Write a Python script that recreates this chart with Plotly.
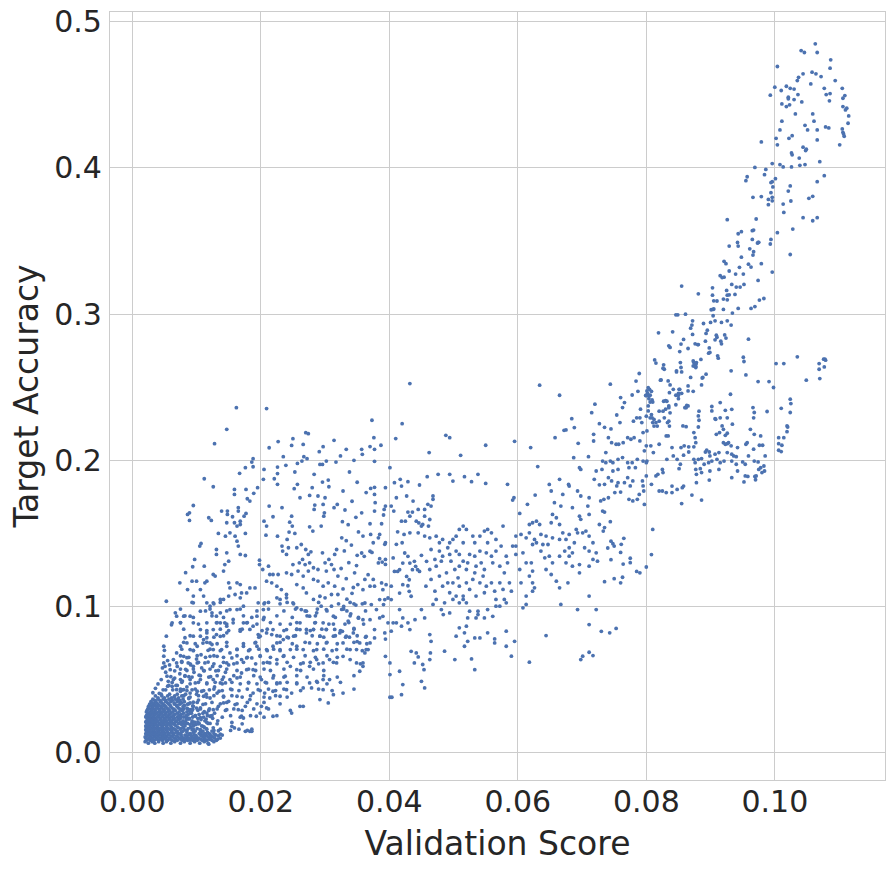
import plotly.graph_objects as go

# values, grouped by region of the plot

# upper right: top cluster and the steep branch (x > 0.072)
right_pts = [
    (0.1063, 0.4849), (0.1041, 0.4803), (0.1046, 0.4790), (0.1066, 0.4790), (0.1087, 0.4740),
    (0.1004, 0.4694), (0.1086, 0.4683), (0.1044, 0.4644), (0.1058, 0.4655), (0.1064, 0.4644),
    (0.1072, 0.4625), (0.1037, 0.4620), (0.1035, 0.4598), (0.1094, 0.4598), (0.1056, 0.4575),
    (0.1000, 0.4553), (0.1010, 0.4530), (0.1018, 0.4559), (0.1024, 0.4545), (0.1030, 0.4540),
    (0.1077, 0.4545), (0.1105, 0.4545), (0.0993, 0.4498), (0.1021, 0.4484), (0.1021, 0.4473),
    (0.1036, 0.4502), (0.1030, 0.4468), (0.1042, 0.4452), (0.1080, 0.4502), (0.1086, 0.4509),
    (0.1085, 0.4459), (0.1106, 0.4477), (0.1109, 0.4495), (0.1011, 0.4438), (0.1018, 0.4420),
    (0.1023, 0.4432), (0.1106, 0.4420), (0.1112, 0.4409), (0.1110, 0.4397), (0.1032, 0.4370),
    (0.1059, 0.4370), (0.1115, 0.4356), (0.1011, 0.4320), (0.1061, 0.4320), (0.1114, 0.4306),
    (0.1047, 0.4292), (0.1051, 0.4260), (0.1066, 0.4260), (0.1079, 0.4281), (0.1084, 0.4274),
    (0.1008, 0.4260), (0.1105, 0.4267), (0.1106, 0.4244), (0.1108, 0.4217), (0.1107, 0.4233),
    (0.1002, 0.4203), (0.1022, 0.4203), (0.1027, 0.4221), (0.1066, 0.4192), (0.0979, 0.4178),
    (0.1004, 0.4158), (0.1101, 0.4158), (0.1044, 0.4142), (0.1048, 0.4119), (0.1049, 0.4128),
    (0.1026, 0.4103), (0.1027, 0.4090), (0.1038, 0.4068), (0.0996, 0.4030), (0.1008, 0.4023),
    (0.1013, 0.4007), (0.1026, 0.4007), (0.1039, 0.4018), (0.1047, 0.4023), (0.1070, 0.4043),
    (0.0969, 0.4004), (0.0986, 0.3990), (0.1077, 0.3947), (0.0984, 0.3954), (0.0957, 0.3940),
    (0.0955, 0.3913), (0.1001, 0.3927), (0.0996, 0.3906), (0.0994, 0.3900), (0.1066, 0.3906),
    (0.1024, 0.3877), (0.0997, 0.3870), (0.1021, 0.3842), (0.0994, 0.3831), (0.0966, 0.3799),
    (0.0979, 0.3804), (0.0996, 0.3799), (0.0990, 0.3785), (0.0996, 0.3775), (0.1025, 0.3774),
    (0.1053, 0.3792), (0.1059, 0.3806), (0.0990, 0.3749), (0.1013, 0.3753), (0.1014, 0.3696),
    (0.1044, 0.3660), (0.1059, 0.3639), (0.1066, 0.3660), (0.0926, 0.3646), (0.0971, 0.3651),
    (0.1028, 0.3582), (0.0965, 0.3571), (0.0967, 0.3575), (0.0948, 0.3564), (0.0943, 0.3550),
    (0.1004, 0.3557), (0.0965, 0.3511), (0.0973, 0.3486), (0.0975, 0.3491), (0.0974, 0.3490),
    (0.0994, 0.3511), (0.0993, 0.3480), (0.0929, 0.3466), (0.0943, 0.3466), (0.0961, 0.3447),
    (0.0967, 0.3427), (0.0966, 0.3404), (0.1024, 0.3408), (0.0942, 0.3490), (0.0948, 0.3390),
    (0.0959, 0.3342), (0.0963, 0.3322), (0.0921, 0.3361), (0.0924, 0.3345), (0.0945, 0.3320),
    (0.0951, 0.3274), (0.0979, 0.3345), (0.0996, 0.3288), (0.0915, 0.3263), (0.0921, 0.3253),
    (0.0918, 0.3250), (0.0929, 0.3295), (0.0939, 0.3274), (0.0974, 0.3231), (0.0933, 0.3203),
    (0.0940, 0.3185), (0.0946, 0.3185), (0.0952, 0.3203), (0.0855, 0.3192), (0.0903, 0.3180),
    (0.0925, 0.3162), (0.0881, 0.3139), (0.0903, 0.3130), (0.0926, 0.3130), (0.0929, 0.3132),
    (0.0938, 0.3135), (0.0920, 0.3103), (0.0926, 0.3098), (0.0905, 0.3091), (0.0983, 0.3107),
    (0.0976, 0.3096), (0.0910, 0.3090), (0.0901, 0.3030), (0.0904, 0.3032), (0.0905, 0.3036),
    (0.0920, 0.3032), (0.0934, 0.3007), (0.0943, 0.3039), (0.0963, 0.3039), (0.0969, 0.3052),
    (0.0904, 0.2989), (0.0846, 0.2995), (0.0849, 0.2995), (0.0861, 0.3000), (0.0907, 0.2954),
    (0.0917, 0.2943), (0.0926, 0.2954), (0.0932, 0.2925), (0.0900, 0.2943), (0.0889, 0.2936),
    (0.0872, 0.2954), (0.0871, 0.2925), (0.0869, 0.2904), (0.0819, 0.2872), (0.0841, 0.2879),
    (0.0895, 0.2890), (0.0893, 0.2868), (0.0872, 0.2861), (0.0858, 0.2827), (0.0892, 0.2815),
    (0.0907, 0.2824), (0.0909, 0.2856), (0.0910, 0.2842), (0.0916, 0.2815), (0.0922, 0.2858),
    (0.0924, 0.2836), (0.0959, 0.2829), (0.0876, 0.2797), (0.0854, 0.2795), (0.0835, 0.2783),
    (0.0837, 0.2772), (0.0880, 0.2792), (0.0881, 0.2792), (0.0898, 0.2769), (0.0917, 0.2797),
    (0.0865, 0.2765), (0.0852, 0.2744), (0.0912, 0.2699), (0.0911, 0.2715), (0.0899, 0.2738),
    (0.0897, 0.2733), (0.0951, 0.2705), (0.0952, 0.2676), (0.0955, 0.2584), (0.0813, 0.2687),
    (0.0815, 0.2665), (0.0827, 0.2653), (0.0828, 0.2623), (0.0826, 0.2630), (0.0847, 0.2612),
    (0.0853, 0.2669), (0.0854, 0.2635), (0.0855, 0.2605), (0.0873, 0.2680), (0.0874, 0.2669),
    (0.0873, 0.2646), (0.0875, 0.2646), (0.0877, 0.2658), (0.0878, 0.2669), (0.0877, 0.2635),
    (0.0877, 0.2642), (0.0885, 0.2690), (0.0888, 0.2567), (0.0887, 0.2563), (0.0893, 0.2589),
    (0.0869, 0.2567), (0.0847, 0.2605), (0.0823, 0.2550), (0.0822, 0.2548), (0.0834, 0.2543),
    (0.0886, 0.2516), (0.0865, 0.2509), (0.0837, 0.2516), (0.0842, 0.2486), (0.0836, 0.2463),
    (0.0851, 0.2486), (0.0852, 0.2486), (0.0850, 0.2457), (0.0850, 0.2422), (0.0846, 0.2445),
    (0.0855, 0.2458), (0.0865, 0.2475), (0.0873, 0.2472), (0.0789, 0.2594), (0.0784, 0.2542),
    (0.0744, 0.2521), (0.0803, 0.2497), (0.0805, 0.2486), (0.0801, 0.2475), (0.0802, 0.2458),
    (0.0800, 0.2442), (0.0804, 0.2442), (0.0799, 0.2444), (0.0787, 0.2472), (0.0778, 0.2447),
    (0.0808, 0.2472), (0.0806, 0.2445), (0.0804, 0.2422), (0.0806, 0.2399), (0.0809, 0.2413),
    (0.0810, 0.2399), (0.0760, 0.2429), (0.0766, 0.2395), (0.0763, 0.2361), (0.0791, 0.2350),
    (0.0803, 0.2372), (0.0803, 0.2338), (0.0827, 0.2404), (0.0830, 0.2409), (0.0832, 0.2404),
    (0.0830, 0.2350), (0.0820, 0.2336), (0.0826, 0.2336), (0.0835, 0.2372), (0.0835, 0.2360),
    (0.0837, 0.2325), (0.0846, 0.2380), (0.0850, 0.2445), (0.0860, 0.2360), (0.0863, 0.2375),
    (0.0800, 0.2302), (0.0808, 0.2313), (0.0806, 0.2291), (0.0809, 0.2291), (0.0812, 0.2280),
    (0.0810, 0.2258), (0.0815, 0.2258), (0.0820, 0.2268), (0.0828, 0.2291), (0.0833, 0.2258),
    (0.0835, 0.2268), (0.0836, 0.2234), (0.0817, 0.2234), (0.0812, 0.2234), (0.0790, 0.2291),
    (0.0793, 0.2258), (0.0785, 0.2291), (0.0780, 0.2268), (0.0759, 0.2258), (0.0754, 0.2310),
    (0.0735, 0.2226), (0.0745, 0.2215),
]

# lower right: the flat band under the branch and the isolated groups near x = 0.10
band_pts = [
    (0.0857, 0.2235), (0.0862, 0.2230), (0.0881, 0.2228), (0.0882, 0.2274), (0.0881, 0.2304),
    (0.0882, 0.2336), (0.0862, 0.2360), (0.0865, 0.2372), (0.0902, 0.2368), (0.0902, 0.2338),
    (0.0915, 0.2395), (0.0907, 0.2285), (0.0908, 0.2281), (0.0915, 0.2291), (0.0923, 0.2342),
    (0.0926, 0.2291), (0.0933, 0.2349), (0.0931, 0.2452), (0.0934, 0.2247), (0.0932, 0.2612),
    (0.0966, 0.2361), (0.0968, 0.2327), (0.0967, 0.2291), (0.0974, 0.2539), (0.0988, 0.2334),
    (0.0991, 0.2539), (0.0998, 0.2498), (0.1002, 0.2662), (0.1014, 0.2662), (0.1035, 0.2708),
    (0.1049, 0.2548), (0.1069, 0.2623), (0.1069, 0.2662), (0.1076, 0.2692), (0.1078, 0.2692),
    (0.1079, 0.2685), (0.1070, 0.2559), (0.1077, 0.2639), (0.1010, 0.2356), (0.1024, 0.2418),
    (0.1025, 0.2388), (0.1024, 0.2327), (0.1019, 0.2235), (0.1020, 0.2228), (0.1019, 0.2196),
    (0.1006, 0.2155), (0.1014, 0.2155), (0.1006, 0.2114), (0.1011, 0.2103), (0.1006, 0.2069),
    (0.1010, 0.2060), (0.0874, 0.2190), (0.0876, 0.2155), (0.0877, 0.2121), (0.0874, 0.2092),
    (0.0866, 0.2092), (0.0859, 0.2099), (0.0854, 0.2087), (0.0842, 0.2030), (0.0848, 0.2007),
    (0.0853, 0.1973), (0.0851, 0.1943), (0.0858, 0.2035), (0.0866, 0.2057), (0.0874, 0.2007),
    (0.0876, 0.1984), (0.0877, 0.1938), (0.0878, 0.1904), (0.0878, 0.1847), (0.0881, 0.2007),
    (0.0886, 0.2012), (0.0884, 0.1943), (0.0886, 0.1916), (0.0892, 0.2057), (0.0894, 0.2070),
    (0.0898, 0.2057), (0.0897, 0.1984), (0.0890, 0.1973), (0.0899, 0.2030), (0.0902, 0.1995),
    (0.0899, 0.1927), (0.0898, 0.1865), (0.0909, 0.2178), (0.0914, 0.2190), (0.0918, 0.2235),
    (0.0920, 0.2212), (0.0923, 0.2171), (0.0926, 0.2185), (0.0928, 0.2121), (0.0926, 0.2114),
    (0.0923, 0.2110), (0.0920, 0.2121), (0.0913, 0.2053), (0.0907, 0.2042), (0.0910, 0.2007),
    (0.0915, 0.1984), (0.0913, 0.1938), (0.0921, 0.1995), (0.0926, 0.2053), (0.0932, 0.2099),
    (0.0933, 0.2042), (0.0933, 0.1995), (0.0933, 0.1881), (0.0936, 0.2030), (0.0940, 0.2025),
    (0.0940, 0.1973), (0.0942, 0.2087), (0.0942, 0.1927), (0.0950, 0.1989), (0.0954, 0.1973),
    (0.0955, 0.2110), (0.0957, 0.2121), (0.0952, 0.1852), (0.0958, 0.1890), (0.0962, 0.2212),
    (0.0968, 0.2178), (0.0967, 0.2076), (0.0968, 0.1995), (0.0969, 0.1890), (0.0970, 0.1867),
    (0.0974, 0.1989), (0.0975, 0.1938), (0.0978, 0.2167), (0.0981, 0.2103), (0.0976, 0.2103),
    (0.0978, 0.1950), (0.0983, 0.1961), (0.0985, 0.2030), (0.0984, 0.1927), (0.0980, 0.1916),
    (0.0971, 0.1893), (0.0959, 0.2030), (0.0954, 0.1893),
    (0.0727, 0.2251), (0.0741, 0.2155), (0.0746, 0.2121), (0.0753, 0.2110), (0.0757, 0.2110),
    (0.0764, 0.2121), (0.0771, 0.2155), (0.0776, 0.2144), (0.0781, 0.2155), (0.0790, 0.2133),
    (0.0795, 0.2190), (0.0801, 0.2201), (0.0807, 0.2099), (0.0800, 0.2099), (0.0797, 0.2065),
    (0.0795, 0.1995), (0.0801, 0.1995), (0.0800, 0.1984), (0.0811, 0.2053), (0.0820, 0.2110),
    (0.0831, 0.2167), (0.0834, 0.2167), (0.0840, 0.2087), (0.0832, 0.2007), (0.0826, 0.1916),
    (0.0825, 0.1938), (0.0818, 0.1904), (0.0808, 0.1836), (0.0800, 0.1893), (0.0794, 0.1859),
    (0.0795, 0.1825), (0.0779, 0.1859), (0.0771, 0.1881), (0.0775, 0.1825), (0.0766, 0.1847),
    (0.0756, 0.1847), (0.0754, 0.1825), (0.0746, 0.1859), (0.0741, 0.1881), (0.0735, 0.1836),
    (0.0727, 0.1832), (0.0731, 0.1938), (0.0737, 0.1984), (0.0744, 0.1995), (0.0748, 0.1984),
    (0.0756, 0.2007), (0.0763, 0.2019), (0.0771, 0.1984), (0.0778, 0.1984), (0.0786, 0.2007),
    (0.0783, 0.1950), (0.0773, 0.1950), (0.0756, 0.1938), (0.0748, 0.1927), (0.0737, 0.2053),
    (0.0732, 0.1995), (0.0729, 0.1722), (0.0734, 0.1733), (0.0741, 0.1744), (0.0751, 0.1779),
    (0.0760, 0.1783), (0.0773, 0.1733), (0.0779, 0.1722), (0.0786, 0.1733), (0.0789, 0.1767),
    (0.0796, 0.1790), (0.0797, 0.1698), (0.0815, 0.1893), (0.0820, 0.1790), (0.0825, 0.1790),
    (0.0831, 0.1779), (0.0840, 0.1779), (0.0848, 0.1801), (0.0856, 0.1813), (0.0858, 0.1824),
    (0.0840, 0.1824), (0.0855, 0.1704), (0.0871, 0.1762), (0.0886, 0.1728), (0.0810, 0.1527),
    (0.0732, 0.1653), (0.0735, 0.1646), (0.0727, 0.1561), (0.0733, 0.1516), (0.0745, 0.1447),
    (0.0750, 0.1413), (0.0761, 0.1425), (0.0765, 0.1466),
    (0.0730, 0.0830), (0.0743, 0.0820), (0.0753, 0.0850), (0.0735, 0.1170), (0.0750, 0.1190),
    (0.0760, 0.1162), (0.0763, 0.1200), (0.0775, 0.1300), (0.0745, 0.1320), (0.0740, 0.1400),
    (0.0748, 0.1430), (0.0760, 0.1370), (0.0775, 0.1330), (0.0764, 0.1290), (0.0790, 0.1230),
    (0.0785, 0.1240), (0.0744, 0.1580), (0.0735, 0.1540), (0.0800, 0.1270), (0.0808, 0.1355),
]

# middle: x between 0.035 and 0.072
middle_pts = [
    (0.0432, 0.2525), (0.0634, 0.2514), (0.0665, 0.2445), (0.0373, 0.2274), (0.0420, 0.2251),
    (0.0376, 0.2155), (0.0410, 0.2149), (0.0488, 0.2171), (0.0494, 0.2155), (0.0370, 0.2094),
    (0.0377, 0.2075), (0.0387, 0.2103), (0.0357, 0.2075), (0.0358, 0.2041), (0.0377, 0.1993),
    (0.0462, 0.2053), (0.0511, 0.2034), (0.0550, 0.2103), (0.0595, 0.2130), (0.0620, 0.2087),
    (0.0631, 0.1957), (0.0658, 0.2155), (0.0672, 0.2205), (0.0675, 0.2208), (0.0688, 0.2224),
    (0.0684, 0.2285), (0.0715, 0.2326), (0.0720, 0.2384), (0.0694, 0.2116), (0.0687, 0.2018),
    (0.0710, 0.2025), (0.0718, 0.2132), (0.0718, 0.2178), (0.0401, 0.1950), (0.0408, 0.1847),
    (0.0417, 0.1870), (0.0429, 0.1854), (0.0419, 0.1824), (0.0447, 0.1831), (0.0459, 0.1888),
    (0.0476, 0.1904), (0.0494, 0.1904), (0.0499, 0.1858), (0.0517, 0.1888), (0.0528, 0.1854),
    (0.0538, 0.1904), (0.0550, 0.1842), (0.0584, 0.1836), (0.0592, 0.1728), (0.0594, 0.1744),
    (0.0603, 0.1637), (0.0615, 0.1699), (0.0627, 0.1762), (0.0364, 0.1779), (0.0371, 0.1808),
    (0.0377, 0.1815), (0.0377, 0.1767), (0.0394, 0.1813), (0.0378, 0.1710), (0.0377, 0.1653),
    (0.0392, 0.1664), (0.0394, 0.1687), (0.0391, 0.1626), (0.0388, 0.1566), (0.0407, 0.1653),
    (0.0357, 0.1641), (0.0370, 0.1566), (0.0385, 0.1493), (0.0383, 0.1470), (0.0393, 0.1425),
    (0.0394, 0.1436), (0.0375, 0.1436), (0.0359, 0.1482), (0.0371, 0.1493), (0.0370, 0.1378),
    (0.0373, 0.1370), (0.0357, 0.1366), (0.0361, 0.1343), (0.0385, 0.1327), (0.0389, 0.1304),
    (0.0394, 0.1322), (0.0394, 0.1288), (0.0383, 0.1298), (0.0406, 0.1332), (0.0413, 0.1511),
    (0.0419, 0.1584), (0.0425, 0.1584), (0.0429, 0.1646), (0.0432, 0.1618), (0.0436, 0.1646),
    (0.0442, 0.1584), (0.0446, 0.1572), (0.0450, 0.1550), (0.0445, 0.1504), (0.0455, 0.1664),
    (0.0455, 0.1618), (0.0460, 0.1699), (0.0468, 0.1756), (0.0468, 0.1733), (0.0465, 0.1687),
    (0.0463, 0.1595), (0.0461, 0.1550), (0.0463, 0.1470), (0.0455, 0.1482), (0.0432, 0.1504),
    (0.0423, 0.1493), (0.0420, 0.1436), (0.0411, 0.1425), (0.0424, 0.1366), (0.0421, 0.1297),
    (0.0432, 0.1297), (0.0429, 0.1343), (0.0439, 0.1309), (0.0436, 0.1252), (0.0444, 0.1252),
    (0.0447, 0.1240), (0.0441, 0.1275), (0.0450, 0.1350), (0.0458, 0.1309), (0.0408, 0.1240),
    (0.0413, 0.1240), (0.0416, 0.1252), (0.0427, 0.1206), (0.0431, 0.1183), (0.0429, 0.1142),
    (0.0431, 0.1104), (0.0434, 0.1070), (0.0421, 0.1149), (0.0416, 0.1092), (0.0403, 0.1139),
    (0.0395, 0.1149), (0.0390, 0.1115), (0.0388, 0.1161), (0.0375, 0.1185), (0.0370, 0.1139),
    (0.0377, 0.1139), (0.0367, 0.1218), (0.0362, 0.1185), (0.0359, 0.1115), (0.0362, 0.1024),
    (0.0372, 0.1013), (0.0385, 0.1047), (0.0393, 0.1047), (0.0398, 0.1058), (0.0403, 0.1047),
    (0.0391, 0.1013), (0.0380, 0.0979), (0.0370, 0.0910), (0.0359, 0.0910), (0.0385, 0.0922),
    (0.0390, 0.0933), (0.0398, 0.0888), (0.0406, 0.0888), (0.0411, 0.0888), (0.0416, 0.0979),
    (0.0421, 0.0922), (0.0419, 0.0865), (0.0429, 0.0888), (0.0432, 0.0842), (0.0440, 0.0910),
    (0.0450, 0.0979), (0.0455, 0.0922), (0.0377, 0.0842), (0.0393, 0.0819), (0.0403, 0.0831),
    (0.0364, 0.0796), (0.0370, 0.0751), (0.0377, 0.0785), (0.0394, 0.0777), (0.0367, 0.0705),
    (0.0362, 0.0682), (0.0359, 0.0591), (0.0354, 0.0557), (0.0394, 0.0659), (0.0401, 0.0614),
    (0.0401, 0.0534), (0.0416, 0.0557), (0.0421, 0.0466), (0.0419, 0.0397), (0.0401, 0.0379),
    (0.0404, 0.0379), (0.0434, 0.0693), (0.0442, 0.0682), (0.0445, 0.0655), (0.0439, 0.0614),
    (0.0452, 0.0603), (0.0454, 0.0568), (0.0450, 0.0488), (0.0455, 0.0443), (0.0463, 0.0637),
    (0.0464, 0.0682), (0.0465, 0.0762), (0.0463, 0.0808), (0.0473, 0.1048), (0.0484, 0.0945),
    (0.0494, 0.0956), (0.0486, 0.1025), (0.0499, 0.1048), (0.0509, 0.1025), (0.0515, 0.1048),
    (0.0520, 0.1025), (0.0525, 0.0968), (0.0522, 0.0922), (0.0538, 0.0968), (0.0538, 0.0945),
    (0.0535, 0.0922), (0.0548, 0.0922), (0.0553, 0.0979), (0.0561, 0.0933), (0.0566, 0.1002),
    (0.0572, 0.1002), (0.0579, 0.1048), (0.0582, 0.1025), (0.0486, 0.0694), (0.0502, 0.0637),
    (0.0504, 0.0797), (0.0509, 0.0854), (0.0517, 0.0820), (0.0520, 0.0865), (0.0517, 0.0728),
    (0.0522, 0.0762), (0.0528, 0.0641), (0.0533, 0.0568), (0.0533, 0.0785), (0.0541, 0.0785),
    (0.0553, 0.0820), (0.0564, 0.0778), (0.0564, 0.0751), (0.0582, 0.0728), (0.0582, 0.0831),
    (0.0590, 0.0660), (0.0595, 0.0762), (0.0618, 0.0619), (0.0644, 0.0801),
    (0.0649, 0.1835), (0.0652, 0.1790), (0.0665, 0.1870), (0.0670, 0.1767), (0.0657, 0.1710),
    (0.0667, 0.1687), (0.0679, 0.1835), (0.0680, 0.1824), (0.0685, 0.1676), (0.0696, 0.1950),
    (0.0698, 0.1938), (0.0693, 0.1790), (0.0698, 0.1756), (0.0711, 0.1744), (0.0709, 0.1687),
    (0.0719, 0.1870), (0.0722, 0.1927), (0.0696, 0.1618), (0.0698, 0.1596), (0.0711, 0.1630),
    (0.0691, 0.1527), (0.0693, 0.1504), (0.0680, 0.1493), (0.0675, 0.1459), (0.0688, 0.1436),
    (0.0680, 0.1402), (0.0701, 0.1504), (0.0706, 0.1516), (0.0711, 0.1482), (0.0704, 0.1402),
    (0.0717, 0.1436), (0.0711, 0.1379), (0.0722, 0.1367), (0.0724, 0.1310), (0.0654, 0.1630),
    (0.0660, 0.1607), (0.0652, 0.1573), (0.0665, 0.1561), (0.0670, 0.1504), (0.0665, 0.1459),
    (0.0654, 0.1470), (0.0644, 0.1482), (0.0639, 0.1424), (0.0647, 0.1424), (0.0636, 0.1493),
    (0.0634, 0.1561), (0.0629, 0.1584), (0.0623, 0.1573), (0.0618, 0.1561), (0.0618, 0.1504),
    (0.0626, 0.1459), (0.0629, 0.1436), (0.0623, 0.1424), (0.0613, 0.1470), (0.0605, 0.1493),
    (0.0597, 0.1482), (0.0592, 0.1413), (0.0597, 0.1356), (0.0608, 0.1367), (0.0613, 0.1299),
    (0.0621, 0.1299), (0.0623, 0.1242), (0.0618, 0.1208), (0.0623, 0.1162), (0.0626, 0.1128),
    (0.0636, 0.1379), (0.0642, 0.1333), (0.0649, 0.1344), (0.0654, 0.1299), (0.0665, 0.1344),
    (0.0673, 0.1379), (0.0680, 0.1344), (0.0685, 0.1367), (0.0644, 0.1253), (0.0652, 0.1219),
    (0.0660, 0.1173), (0.0665, 0.1128), (0.0678, 0.1162), (0.0675, 0.1299), (0.0685, 0.1276),
    (0.0696, 0.1230), (0.0711, 0.1276), (0.0717, 0.1322), (0.0711, 0.1071), (0.0696, 0.1287),
    (0.0667, 0.1014), (0.0693, 0.0979), (0.0722, 0.0979), (0.0711, 0.0876), (0.0698, 0.0637),
    (0.0701, 0.0660), (0.0711, 0.0687), (0.0717, 0.0664), (0.0613, 0.1014), (0.0608, 0.0991),
    (0.0603, 0.1253), (0.0605, 0.1162), (0.0623, 0.1105), (0.0613, 0.1071), (0.0597, 0.1413),
    (0.0473, 0.1481), (0.0478, 0.1436), (0.0478, 0.1379), (0.0483, 0.1344), (0.0481, 0.1310),
    (0.0491, 0.1402), (0.0494, 0.1356), (0.0496, 0.1310), (0.0499, 0.1459), (0.0504, 0.1379),
    (0.0502, 0.1253), (0.0509, 0.1356), (0.0509, 0.1276), (0.0515, 0.1310), (0.0515, 0.1436),
    (0.0520, 0.1253), (0.0522, 0.1299), (0.0525, 0.1356), (0.0533, 0.1344), (0.0535, 0.1276),
    (0.0533, 0.1230), (0.0541, 0.1379), (0.0543, 0.1299), (0.0548, 0.1253), (0.0551, 0.1367),
    (0.0553, 0.1436), (0.0559, 0.1344), (0.0561, 0.1299), (0.0566, 0.1379), (0.0566, 0.1459),
    (0.0572, 0.1276), (0.0577, 0.1550), (0.0574, 0.1413), (0.0582, 0.1344), (0.0584, 0.1299),
    (0.0548, 0.1516), (0.0553, 0.1527), (0.0559, 0.1504), (0.0541, 0.1482), (0.0533, 0.1436),
    (0.0530, 0.1482), (0.0520, 0.1527), (0.0515, 0.1550), (0.0509, 0.1527), (0.0504, 0.1481),
    (0.0494, 0.1436), (0.0483, 0.1459), (0.0465, 0.1390), (0.0471, 0.1322), (0.0473, 0.1276),
    (0.0463, 0.1253), (0.0465, 0.1185), (0.0478, 0.1208), (0.0489, 0.1230), (0.0491, 0.1162),
    (0.0483, 0.1139), (0.0499, 0.1162), (0.0507, 0.1196), (0.0509, 0.1139), (0.0520, 0.1162),
    (0.0525, 0.1117), (0.0530, 0.1185), (0.0541, 0.1162), (0.0546, 0.1208), (0.0551, 0.1139),
    (0.0559, 0.1162), (0.0564, 0.1105), (0.0572, 0.1162), (0.0577, 0.1117), (0.0579, 0.1230),
    (0.0587, 0.1162), (0.0590, 0.1105), (0.0494, 0.1094), (0.0504, 0.1071), (0.0515, 0.1071),
    (0.0535, 0.1071), (0.0548, 0.1094), (0.0566, 0.1048), (0.0471, 0.1105), (0.0457, 0.1139),
    (0.0468, 0.1014), (0.0481, 0.0979), (0.0411, 0.1744), (0.0403, 0.1687), (0.0427, 0.1756),
    (0.0437, 0.1721), (0.0445, 0.1664), (0.0452, 0.1561),
]

# left: x between 0.001 and 0.035, above the dense corner
left_pts = [
    (0.0162, 0.2360), (0.0209, 0.2354), (0.0147, 0.2212), (0.0128, 0.2114), (0.0270, 0.2189),
    (0.0274, 0.2182), (0.0250, 0.2148), (0.0227, 0.2128), (0.0213, 0.2086), (0.0248, 0.2102),
    (0.0266, 0.2109), (0.0297, 0.2093), (0.0314, 0.2137), (0.0291, 0.2059), (0.0235, 0.2025),
    (0.0267, 0.2025), (0.0272, 0.2011), (0.0188, 0.2011), (0.0186, 0.1988), (0.0257, 0.1979),
    (0.0264, 0.1995), (0.0292, 0.1972), (0.0296, 0.1972), (0.0302, 0.1995), (0.0317, 0.1988),
    (0.0226, 0.1954), (0.0239, 0.1966), (0.0205, 0.1938), (0.0188, 0.1956), (0.0176, 0.1950),
    (0.0167, 0.1911), (0.0112, 0.1874), (0.0126, 0.1819), (0.0204, 0.1870), (0.0221, 0.1874),
    (0.0226, 0.1909), (0.0226, 0.1836), (0.0253, 0.1920), (0.0252, 0.1806), (0.0257, 0.1836),
    (0.0283, 0.1904), (0.0296, 0.1851), (0.0305, 0.1865), (0.0306, 0.1819), (0.0280, 0.1813),
    (0.0261, 0.1744), (0.0276, 0.1760), (0.0289, 0.1756), (0.0300, 0.1744), (0.0314, 0.1676),
    (0.0319, 0.1698), (0.0297, 0.1698), (0.0284, 0.1694), (0.0283, 0.1664), (0.0299, 0.1641),
    (0.0298, 0.1618), (0.0294, 0.1550), (0.0276, 0.1545), (0.0281, 0.1516), (0.0219, 0.1614),
    (0.0213, 0.1687), (0.0205, 0.1584), (0.0209, 0.1550), (0.0208, 0.1488), (0.0226, 0.1481),
    (0.0233, 0.1676), (0.0248, 0.1618), (0.0245, 0.1577), (0.0249, 0.1550), (0.0244, 0.1509),
    (0.0253, 0.1500), (0.0241, 0.1459), (0.0233, 0.1413), (0.0243, 0.1402), (0.0234, 0.1379),
    (0.0240, 0.1356), (0.0256, 0.1402), (0.0263, 0.1424), (0.0270, 0.1390), (0.0274, 0.1356),
    (0.0265, 0.1322), (0.0278, 0.1374), (0.0296, 0.1367), (0.0318, 0.1390), (0.0315, 0.1356),
    (0.0306, 0.1322), (0.0300, 0.1299), (0.0310, 0.1287), (0.0314, 0.1253), (0.0302, 0.1242),
    (0.0289, 0.1253), (0.0282, 0.1265), (0.0276, 0.1299), (0.0269, 0.1287), (0.0260, 0.1299),
    (0.0250, 0.1287), (0.0258, 0.1242), (0.0266, 0.1208), (0.0274, 0.1242), (0.0282, 0.1185),
    (0.0289, 0.1174), (0.0297, 0.1139), (0.0305, 0.1162), (0.0315, 0.1139), (0.0320, 0.1208),
    (0.0320, 0.1082), (0.0310, 0.1082), (0.0300, 0.1059), (0.0292, 0.1070), (0.0282, 0.1048),
    (0.0271, 0.1093), (0.0266, 0.1127), (0.0256, 0.1150), (0.0248, 0.1219), (0.0240, 0.1230),
    (0.0227, 0.1219), (0.0219, 0.1219), (0.0214, 0.1219), (0.0212, 0.1276), (0.0198, 0.1317),
    (0.0198, 0.1287), (0.0203, 0.1253), (0.0209, 0.1173), (0.0217, 0.1162), (0.0225, 0.1139),
    (0.0232, 0.1116), (0.0225, 0.1059), (0.0230, 0.1048), (0.0240, 0.1059), (0.0240, 0.1082),
    (0.0250, 0.1025), (0.0256, 0.0991), (0.0263, 0.0979), (0.0271, 0.0968), (0.0276, 0.0934),
    (0.0287, 0.0957), (0.0294, 0.1002), (0.0302, 0.0979), (0.0310, 0.1002), (0.0313, 0.0934),
    (0.0297, 0.0888), (0.0284, 0.0888), (0.0282, 0.0843), (0.0292, 0.0797), (0.0302, 0.0843),
    (0.0315, 0.0843), (0.0271, 0.0843), (0.0261, 0.0888), (0.0256, 0.0843), (0.0243, 0.0786),
    (0.0235, 0.0774), (0.0225, 0.0751), (0.0217, 0.0808), (0.0204, 0.0911), (0.0204, 0.0979),
    (0.0206, 0.1025), (0.0196, 0.1025), (0.0194, 0.0934), (0.0196, 0.0808), (0.0191, 0.0751),
    (0.0095, 0.1691), (0.0089, 0.1641), (0.0086, 0.1630), (0.0089, 0.1589), (0.0119, 0.1607),
    (0.0123, 0.1589), (0.0134, 0.1500), (0.0139, 0.1653), (0.0148, 0.1653), (0.0148, 0.1630),
    (0.0156, 0.1614), (0.0159, 0.1801), (0.0159, 0.1767), (0.0165, 0.1676), (0.0165, 0.1653),
    (0.0168, 0.1584), (0.0174, 0.1618), (0.0177, 0.1637), (0.0177, 0.1801), (0.0179, 0.1737),
    (0.0189, 0.1774), (0.0195, 0.1813), (0.0183, 0.1721), (0.0159, 0.1573), (0.0163, 0.1550),
    (0.0168, 0.1561), (0.0160, 0.1481), (0.0163, 0.1447), (0.0165, 0.1413), (0.0147, 0.1573),
    (0.0152, 0.1504), (0.0145, 0.1481), (0.0176, 0.1500), (0.0168, 0.1356), (0.0176, 0.1349),
    (0.0107, 0.1431), (0.0105, 0.1413), (0.0131, 0.1390), (0.0131, 0.1356), (0.0147, 0.1367),
    (0.0150, 0.1310), (0.0144, 0.1287), (0.0142, 0.1242), (0.0097, 0.1322), (0.0094, 0.1272),
    (0.0112, 0.1276), (0.0126, 0.1219), (0.0129, 0.1208), (0.0116, 0.1173), (0.0113, 0.1162),
    (0.0100, 0.1173), (0.0093, 0.1173), (0.0083, 0.1231), (0.0074, 0.1162), (0.0086, 0.1116),
    (0.0106, 0.1116), (0.0111, 0.1071), (0.0095, 0.1071), (0.0095, 0.1025), (0.0116, 0.1025),
    (0.0121, 0.1002), (0.0126, 0.1025), (0.0137, 0.1048), (0.0150, 0.1162), (0.0152, 0.1127),
    (0.0163, 0.1162), (0.0168, 0.1150), (0.0170, 0.1093), (0.0178, 0.1093), (0.0183, 0.1127),
    (0.0191, 0.1127), (0.0160, 0.1082), (0.0150, 0.1071), (0.0142, 0.1048), (0.0168, 0.1059),
    (0.0152, 0.0979), (0.0163, 0.0979), (0.0173, 0.1002), (0.0137, 0.0957), (0.0131, 0.0934),
    (0.0124, 0.0957), (0.0106, 0.0968), (0.0090, 0.0934), (0.0080, 0.0934), (0.0067, 0.0957),
    (0.0062, 0.0888), (0.0061, 0.0875), (0.0053, 0.1036), (0.0069, 0.0934), (0.0075, 0.0888),
    (0.0095, 0.0888), (0.0116, 0.0888), (0.0131, 0.0888), (0.0144, 0.0888), (0.0157, 0.0911),
    (0.0173, 0.0888), (0.0183, 0.0843), (0.0168, 0.0831), (0.0147, 0.0820), (0.0131, 0.0808),
    (0.0116, 0.0786), (0.0106, 0.0797), (0.0082, 0.0786), (0.0053, 0.0797), (0.0049, 0.0728),
    (0.0324, 0.2030), (0.0333, 0.2075), (0.0345, 0.2000), (0.0338, 0.1920), (0.0350, 0.1850),
    (0.0328, 0.1790), (0.0342, 0.1720), (0.0331, 0.1660), (0.0348, 0.1610), (0.0336, 0.1560),
    (0.0352, 0.1510), (0.0326, 0.1470), (0.0341, 0.1420), (0.0330, 0.1380), (0.0350, 0.1350),
    (0.0337, 0.1300), (0.0325, 0.1260), (0.0346, 0.1230), (0.0333, 0.1190), (0.0351, 0.1150),
    (0.0328, 0.1120), (0.0342, 0.1090), (0.0334, 0.1050), (0.0348, 0.1010), (0.0326, 0.0980),
    (0.0340, 0.0950), (0.0352, 0.0920), (0.0331, 0.0880), (0.0345, 0.0850), (0.0327, 0.0830),
    (0.0338, 0.0790), (0.0350, 0.0760), (0.0336, 0.0900), (0.0329, 0.1000), (0.0344, 0.1130),
    (0.0333, 0.1450), (0.0349, 0.1280), (0.0327, 0.1580),
]

# lower fan between the corner and the middle (y below about 0.09)
fan_pts = [
    (0.0051, 0.0591), (0.0049, 0.0614), (0.0069, 0.0682), (0.0077, 0.0625), (0.0087, 0.0614),
    (0.0095, 0.0591), (0.0101, 0.0614), (0.0108, 0.0580), (0.0113, 0.0614), (0.0121, 0.0659),
    (0.0126, 0.0705), (0.0132, 0.0659), (0.0139, 0.0705), (0.0137, 0.0591), (0.0147, 0.0614),
    (0.0155, 0.0648), (0.0163, 0.0614), (0.0170, 0.0637), (0.0178, 0.0648), (0.0186, 0.0648),
    (0.0188, 0.0568), (0.0178, 0.0568), (0.0170, 0.0545), (0.0163, 0.0511), (0.0152, 0.0500),
    (0.0145, 0.0477), (0.0137, 0.0477), (0.0126, 0.0500), (0.0116, 0.0477), (0.0106, 0.0500),
    (0.0098, 0.0477), (0.0090, 0.0500), (0.0082, 0.0523), (0.0075, 0.0500), (0.0064, 0.0500),
    (0.0056, 0.0488), (0.0062, 0.0454), (0.0069, 0.0431), (0.0080, 0.0431), (0.0090, 0.0408),
    (0.0101, 0.0420), (0.0111, 0.0386), (0.0121, 0.0374), (0.0132, 0.0408), (0.0142, 0.0386),
    (0.0150, 0.0351), (0.0160, 0.0329), (0.0165, 0.0294), (0.0170, 0.0249), (0.0173, 0.0237),
    (0.0155, 0.0180), (0.0159, 0.0169), (0.0176, 0.0146), (0.0183, 0.0146), (0.0186, 0.0146),
    (0.0193, 0.0249), (0.0199, 0.0271), (0.0201, 0.0317), (0.0209, 0.0306), (0.0219, 0.0249),
    (0.0214, 0.0374), (0.0206, 0.0408), (0.0196, 0.0431), (0.0188, 0.0408), (0.0181, 0.0477),
    (0.0183, 0.0363), (0.0176, 0.0317), (0.0163, 0.0386), (0.0155, 0.0431), (0.0147, 0.0294),
    (0.0142, 0.0340), (0.0134, 0.0317), (0.0126, 0.0294), (0.0121, 0.0249), (0.0116, 0.0271),
    (0.0106, 0.0306), (0.0095, 0.0317), (0.0090, 0.0294), (0.0201, 0.0500), (0.0209, 0.0477),
    (0.0219, 0.0511), (0.0225, 0.0477), (0.0230, 0.0477), (0.0238, 0.0523), (0.0240, 0.0431),
    (0.0248, 0.0408), (0.0248, 0.0271), (0.0261, 0.0317), (0.0266, 0.0317), (0.0256, 0.0477),
    (0.0266, 0.0443), (0.0276, 0.0477), (0.0279, 0.0443), (0.0287, 0.0488), (0.0297, 0.0500),
    (0.0307, 0.0500), (0.0313, 0.0397), (0.0328, 0.0408), (0.0292, 0.0363), (0.0219, 0.0420),
    (0.0230, 0.0386), (0.0246, 0.0591), (0.0256, 0.0568), (0.0266, 0.0614), (0.0276, 0.0591),
    (0.0287, 0.0637), (0.0297, 0.0614), (0.0307, 0.0637), (0.0318, 0.0614), (0.0328, 0.0659),
    (0.0339, 0.0637), (0.0349, 0.0614), (0.0359, 0.0614), (0.0349, 0.0705), (0.0328, 0.0751),
    (0.0318, 0.0705), (0.0302, 0.0751), (0.0287, 0.0705), (0.0276, 0.0751), (0.0266, 0.0705),
    (0.0256, 0.0728), (0.0246, 0.0705), (0.0235, 0.0659), (0.0225, 0.0637), (0.0214, 0.0614),
    (0.0204, 0.0614), (0.0199, 0.0659), (0.0209, 0.0705), (0.0219, 0.0728), (0.0230, 0.0705),
    (0.0194, 0.0728), (0.0183, 0.0705), (0.0173, 0.0728), (0.0163, 0.0705), (0.0152, 0.0682),
    (0.0147, 0.0728), (0.0137, 0.0796), (0.0121, 0.0751), (0.0111, 0.0774), (0.0101, 0.0728),
    (0.0090, 0.0705), (0.0080, 0.0659), (0.0069, 0.0614), (0.0059, 0.0568), (0.0054, 0.0523),
    (0.0064, 0.0637), (0.0075, 0.0728), (0.0085, 0.0751), (0.0095, 0.0797), (0.0106, 0.0842),
    (0.0116, 0.0819), (0.0126, 0.0842), (0.0137, 0.0888), (0.0147, 0.0865), (0.0157, 0.0888),
    (0.0168, 0.0842), (0.0178, 0.0888), (0.0188, 0.0865), (0.0199, 0.0797), (0.0209, 0.0819),
    (0.0219, 0.0842), (0.0230, 0.0797), (0.0240, 0.0842), (0.0251, 0.0797), (0.0261, 0.0842),
    (0.0271, 0.0819), (0.0282, 0.0842), (0.0292, 0.0797), (0.0302, 0.0842), (0.0313, 0.0797),
    (0.0323, 0.0819), (0.0333, 0.0797), (0.0344, 0.0819), (0.0354, 0.0751), (0.0339, 0.0705),
    (0.0364, 0.0705), (0.0305, 0.0340), (0.0297, 0.0431),
    (0.0050, 0.0700), (0.0049, 0.0660), (0.0055, 0.0630), (0.0047, 0.0580), (0.0052, 0.0550),
    (0.0060, 0.0520), (0.0045, 0.0500), (0.0040, 0.0470), (0.0036, 0.0440), (0.0048, 0.0430),
    (0.0032, 0.0410), (0.0042, 0.0405), (0.0055, 0.0455), (0.0062, 0.0480), (0.0058, 0.0600),
    (0.0066, 0.0560), (0.0070, 0.0590), (0.0065, 0.0380), (0.0072, 0.0360), (0.0080, 0.0390),
    (0.0088, 0.0370), (0.0095, 0.0345), (0.0103, 0.0360), (0.0110, 0.0330), (0.0075, 0.0420),
    (0.0085, 0.0450), (0.0093, 0.0430), (0.0100, 0.0400), (0.0108, 0.0420), (0.0115, 0.0400),
    (0.0070, 0.0460), (0.0078, 0.0490), (0.0088, 0.0520), (0.0096, 0.0550), (0.0104, 0.0530),
    (0.0112, 0.0560), (0.0066, 0.0510), (0.0074, 0.0540), (0.0083, 0.0570), (0.0091, 0.0600),
    (0.0100, 0.0640), (0.0107, 0.0670), (0.0118, 0.0620), (0.0125, 0.0590), (0.0130, 0.0560),
    (0.0122, 0.0520), (0.0128, 0.0450), (0.0120, 0.0430), (0.0135, 0.0420), (0.0140, 0.0500),
    (0.0145, 0.0550), (0.0150, 0.0600), (0.0118, 0.0700), (0.0124, 0.0740), (0.0110, 0.0750),
    (0.0095, 0.0700), (0.0085, 0.0650),
    (0.0080, 0.0200), (0.0088, 0.0230), (0.0095, 0.0190), (0.0102, 0.0210), (0.0110, 0.0180),
    (0.0118, 0.0200), (0.0126, 0.0170), (0.0134, 0.0150), (0.0140, 0.0120), (0.0090, 0.0270),
    (0.0098, 0.0250), (0.0106, 0.0240), (0.0115, 0.0230), (0.0122, 0.0250), (0.0086, 0.0300),
    (0.0094, 0.0320), (0.0102, 0.0290), (0.0112, 0.0280), (0.0120, 0.0300), (0.0128, 0.0270),
]

# second reading of the lower fan (x 0.0075 to 0.037), one row of x readings per level
fan_rows = [
    (0.1028, [0.0093, 0.0137, 0.0212, 0.0241, 0.0290, 0.0339]),
    (0.1018, [0.0127, 0.0205, 0.0230, 0.0251, 0.0321, 0.0345, 0.0358]),
    (0.0982, [0.0075, 0.0121, 0.0168, 0.0212, 0.0254, 0.0288, 0.0329]),
    (0.0970, [0.0114, 0.0147, 0.0194, 0.0236, 0.0269, 0.0303, 0.0334, 0.0363]),
    (0.0936, [0.0082, 0.0124, 0.0173, 0.0225, 0.0272, 0.0285, 0.0339]),
    (0.0925, [0.0095, 0.0142, 0.0186, 0.0205, 0.0249, 0.0316, 0.0352]),
    (0.0890, [0.0075, 0.0132, 0.0179, 0.0215, 0.0256, 0.0285, 0.0337]),
    (0.0880, [0.0103, 0.0147, 0.0194, 0.0230, 0.0246, 0.0306, 0.0313, 0.0360]),
    (0.0845, [0.0080, 0.0137, 0.0171, 0.0210, 0.0256, 0.0295, 0.0345]),
    (0.0835, [0.0116, 0.0150, 0.0202, 0.0236, 0.0277, 0.0324]),
    (0.0800, [0.0090, 0.0142, 0.0225, 0.0254, 0.0280, 0.0316, 0.0350]),
    (0.0790, [0.0127, 0.0197, 0.0241, 0.0298, 0.0332, 0.0363]),
    (0.0755, [0.0080, 0.0116, 0.0147, 0.0192, 0.0230, 0.0269, 0.0303, 0.0345]),
    (0.0745, [0.0098, 0.0132, 0.0173, 0.0249, 0.0288, 0.0319, 0.0365]),
    (0.0708, [0.0077, 0.0121, 0.0163, 0.0197, 0.0220, 0.0256, 0.0298, 0.0334]),
    (0.0698, [0.0095, 0.0137, 0.0181, 0.0210, 0.0230, 0.0282, 0.0311, 0.0358]),
    (0.0663, [0.0075, 0.0101, 0.0127, 0.0163, 0.0199, 0.0236, 0.0269, 0.0303]),
    (0.0652, [0.0088, 0.0114, 0.0142, 0.0179, 0.0215, 0.0251, 0.0285, 0.0319]),
    (0.0618, [0.0077, 0.0103, 0.0142, 0.0173, 0.0210, 0.0241, 0.0277, 0.0313]),
    (0.0608, [0.0090, 0.0127, 0.0158, 0.0192, 0.0225, 0.0262, 0.0290, 0.0355]),
    (0.0572, [0.0075, 0.0095, 0.0121, 0.0147, 0.0181, 0.0205, 0.0236, 0.0282]),
    (0.0562, [0.0085, 0.0111, 0.0134, 0.0163, 0.0192, 0.0215, 0.0262, 0.0298]),
    (0.0527, [0.0082, 0.0106, 0.0132, 0.0158, 0.0189, 0.0220, 0.0256, 0.0298, 0.0345]),
    (0.0517, [0.0093, 0.0119, 0.0142, 0.0168, 0.0199, 0.0236, 0.0272, 0.0319]),
    (0.0481, [0.0077, 0.0103, 0.0129, 0.0155, 0.0181, 0.0207, 0.0241, 0.0288, 0.0324]),
    (0.0471, [0.0090, 0.0116, 0.0140, 0.0168, 0.0194, 0.0225, 0.0256, 0.0303]),
    (0.0435, [0.0075, 0.0098, 0.0127, 0.0153, 0.0179, 0.0212, 0.0236, 0.0290, 0.0345]),
    (0.0425, [0.0085, 0.0111, 0.0140, 0.0166, 0.0199, 0.0223, 0.0262, 0.0311]),
    (0.0390, [0.0080, 0.0103, 0.0127, 0.0155, 0.0184, 0.0223]),
    (0.0380, [0.0090, 0.0116, 0.0142, 0.0171, 0.0205, 0.0241]),
    (0.0344, [0.0075, 0.0101, 0.0124, 0.0147, 0.0179, 0.0205]),
    (0.0334, [0.0088, 0.0114, 0.0137, 0.0163, 0.0194, 0.0230]),
    (0.0299, [0.0080, 0.0106, 0.0132, 0.0158, 0.0189, 0.0212]),
    (0.0289, [0.0093, 0.0119, 0.0145, 0.0171, 0.0246]),
    (0.0253, [0.0075, 0.0098, 0.0124, 0.0153, 0.0184, 0.0225]),
    (0.0243, [0.0085, 0.0111, 0.0140, 0.0168, 0.0205]),
    (0.0207, [0.0075, 0.0093, 0.0116, 0.0155]),
    (0.0197, [0.0082, 0.0103, 0.0132, 0.0171]),
    (0.0161, [0.0075, 0.0095, 0.0116, 0.0137, 0.0166, 0.0186]),
    (0.0152, [0.0085, 0.0106, 0.0127, 0.0153, 0.0179]),
    (0.0127, [0.0075, 0.0090, 0.0106, 0.0121, 0.0137]),
    (0.0120, [0.0082, 0.0098, 0.0114, 0.0129]),
    (0.0092, [0.0080, 0.0101, 0.0121]),
    (0.0086, [0.0090, 0.0111]),
    (0.0058, [0.0119]),
]

# dense corner near the origin, one row of x readings per target accuracy level
corner_rows = [
    (0.0065, [0.0025, 0.0035, 0.0048, 0.0060, 0.0075, 0.0090, 0.0105, 0.0118]),
    (0.0075, [0.0020, 0.0031, 0.0041, 0.0053, 0.0066, 0.0081, 0.0097, 0.0112, 0.0127]),
    (0.0085, [0.0022, 0.0028, 0.0034, 0.0041, 0.0047, 0.0055, 0.0062, 0.0070, 0.0078, 0.0086,
              0.0094, 0.0101, 0.0109, 0.0116, 0.0124, 0.0131]),
    (0.0093, [0.0024, 0.0030, 0.0038, 0.0045, 0.0052, 0.0059, 0.0067, 0.0075, 0.0083, 0.0091,
              0.0098, 0.0106, 0.0113, 0.0121, 0.0133]),
    (0.0100, [0.0021, 0.0026, 0.0031, 0.0037, 0.0043, 0.0050, 0.0058, 0.0066, 0.0073, 0.0080,
              0.0088, 0.0096, 0.0103, 0.0112, 0.0120, 0.0128, 0.0137]),
    (0.0108, [0.0020, 0.0028, 0.0034, 0.0040, 0.0047, 0.0054, 0.0063, 0.0071, 0.0077, 0.0085,
              0.0093, 0.0100, 0.0110, 0.0118, 0.0125]),
    (0.0115, [0.0023, 0.0029, 0.0035, 0.0040, 0.0046, 0.0052, 0.0060, 0.0069, 0.0084, 0.0092,
              0.0099, 0.0107, 0.0115, 0.0122, 0.0134]),
    (0.0122, [0.0025, 0.0031, 0.0037, 0.0043, 0.0049, 0.0056, 0.0064, 0.0076, 0.0088, 0.0096,
              0.0111, 0.0130]),
    (0.0130, [0.0021, 0.0027, 0.0033, 0.0039, 0.0045, 0.0051, 0.0057, 0.0064, 0.0072, 0.0090,
              0.0104, 0.0113, 0.0119, 0.0127]),
    (0.0139, [0.0024, 0.0030, 0.0036, 0.0042, 0.0049, 0.0055, 0.0061, 0.0068, 0.0076, 0.0085,
              0.0095, 0.0108, 0.0117]),
    (0.0148, [0.0022, 0.0028, 0.0034, 0.0041, 0.0047, 0.0054, 0.0062, 0.0070, 0.0079, 0.0098,
              0.0110, 0.0124]),
    (0.0157, [0.0021, 0.0027, 0.0033, 0.0039, 0.0045, 0.0052, 0.0059, 0.0067, 0.0081, 0.0093,
              0.0106]),
    (0.0165, [0.0024, 0.0030, 0.0036, 0.0043, 0.0049, 0.0056, 0.0064, 0.0075, 0.0087, 0.0101,
              0.0115]),
    (0.0174, [0.0022, 0.0028, 0.0034, 0.0040, 0.0047, 0.0054, 0.0061, 0.0071, 0.0079, 0.0091,
              0.0112]),
    (0.0183, [0.0021, 0.0027, 0.0033, 0.0039, 0.0046, 0.0053, 0.0060, 0.0068, 0.0082, 0.0095,
              0.0108]),
    (0.0192, [0.0025, 0.0031, 0.0037, 0.0044, 0.0050, 0.0058, 0.0066, 0.0077, 0.0090, 0.0099]),
    (0.0200, [0.0023, 0.0029, 0.0035, 0.0042, 0.0048, 0.0055, 0.0063, 0.0072, 0.0086, 0.0104,
              0.0121]),
    (0.0209, [0.0021, 0.0026, 0.0032, 0.0038, 0.0045, 0.0051, 0.0059, 0.0067, 0.0075, 0.0083,
              0.0097]),
    (0.0218, [0.0022, 0.0028, 0.0034, 0.0040, 0.0047, 0.0054, 0.0061, 0.0069, 0.0079, 0.0093,
              0.0113, 0.0133]),
    (0.0227, [0.0025, 0.0031, 0.0037, 0.0044, 0.0051, 0.0058, 0.0064, 0.0072, 0.0084, 0.0107]),
    (0.0235, [0.0024, 0.0030, 0.0036, 0.0043, 0.0050, 0.0057, 0.0066, 0.0075, 0.0089, 0.0102,
              0.0125]),
    (0.0244, [0.0021, 0.0027, 0.0033, 0.0039, 0.0046, 0.0053, 0.0061, 0.0070, 0.0080, 0.0094]),
    (0.0253, [0.0022, 0.0028, 0.0034, 0.0041, 0.0048, 0.0056, 0.0064, 0.0073, 0.0084, 0.0098,
              0.0117]),
    (0.0262, [0.0024, 0.0030, 0.0036, 0.0043, 0.0051, 0.0058, 0.0066, 0.0076, 0.0087, 0.0104]),
    (0.0270, [0.0025, 0.0031, 0.0038, 0.0045, 0.0052, 0.0060, 0.0070, 0.0080, 0.0092, 0.0110]),
    (0.0279, [0.0022, 0.0028, 0.0034, 0.0041, 0.0047, 0.0055, 0.0063, 0.0073, 0.0085]),
    (0.0288, [0.0023, 0.0030, 0.0036, 0.0043, 0.0050, 0.0058, 0.0067, 0.0078, 0.0089]),
    (0.0297, [0.0024, 0.0029, 0.0035, 0.0042, 0.0049, 0.0056, 0.0065, 0.0075, 0.0094]),
    (0.0305, [0.0026, 0.0032, 0.0039, 0.0046, 0.0054, 0.0062, 0.0072, 0.0085, 0.0100]),
    (0.0314, [0.0025, 0.0031, 0.0038, 0.0045, 0.0052, 0.0060, 0.0070, 0.0079]),
    (0.0323, [0.0028, 0.0035, 0.0042, 0.0050, 0.0059, 0.0069, 0.0081]),
    (0.0332, [0.0027, 0.0033, 0.0040, 0.0048, 0.0057, 0.0066, 0.0074, 0.0086]),
    (0.0340, [0.0031, 0.0038, 0.0046, 0.0055, 0.0065, 0.0077, 0.0090]),
    (0.0349, [0.0029, 0.0036, 0.0044, 0.0052, 0.0060, 0.0070, 0.0081]),
    (0.0358, [0.0035, 0.0043, 0.0052, 0.0062, 0.0074]),
    (0.0366, [0.0032, 0.0040, 0.0048, 0.0057, 0.0067, 0.0079]),
    (0.0375, [0.0040, 0.0050, 0.0061, 0.0072, 0.0088]),
    (0.0388, [0.0036, 0.0046, 0.0055, 0.0066, 0.0077]),
    (0.0400, [0.0045, 0.0058, 0.0070, 0.0083]),
    (0.0430, [0.0052, 0.0063, 0.0078]),
    (0.0460, [0.0057, 0.0068]),
]

x_ticks = [0.00, 0.02, 0.04, 0.06, 0.08, 0.10]
y_ticks = [0.0, 0.1, 0.2, 0.3, 0.4, 0.5]

row_pts = [(x, y) for y, xs in fan_rows + corner_rows for x in xs]
all_pts = right_pts + band_pts + middle_pts + left_pts + fan_pts + row_pts
val_score = [p[0] for p in all_pts]
target_acc = [p[1] for p in all_pts]

fig = go.Figure(
    go.Scatter(
        x=val_score,
        y=target_acc,
        mode="markers",
        marker=dict(color="#4c72b0", size=3.8, line=dict(width=0)),
        hoverinfo="x+y",
    )
)

fig.update_layout(
    width=895,
    height=872,
    autosize=False,
    plot_bgcolor="white",
    paper_bgcolor="white",
    showlegend=False,
    margin=dict(l=110, r=10, t=12, b=92),
    font=dict(family="DejaVu Sans", size=30, color="#262626"),
)

fig.update_xaxes(
    title=dict(text="Validation Score", font=dict(size=33), standoff=13),
    range=[-0.00347, 0.11715],
    tickvals=x_ticks,
    tickformat=".2f",
    showgrid=True,
    gridcolor="#cccccc",
    gridwidth=1.1,
    zeroline=False,
    showline=True,
    mirror=True,
    linecolor="#cccccc",
    linewidth=1.3,
    ticks="",
    ticklabelstandoff=-5,
    ticklabeloverflow="allow",
    automargin=False,
)
fig.update_yaxes(
    title=dict(text="Target Accuracy", font=dict(size=33), standoff=5),
    range=[-0.0187, 0.5067],
    tickvals=y_ticks,
    tickformat=".1f",
    showgrid=True,
    gridcolor="#cccccc",
    gridwidth=1.1,
    zeroline=False,
    showline=True,
    mirror=True,
    linecolor="#cccccc",
    linewidth=1.3,
    ticks="",
    ticklabelstandoff=1,
    ticklabeloverflow="allow",
    automargin=False,
)

# drop the default 8px page margin so the figure sits at the window's corner
fig.write_html(
    "out.html",
    config={"displayModeBar": False},
    post_script="document.body.style.margin = '0';",
)
